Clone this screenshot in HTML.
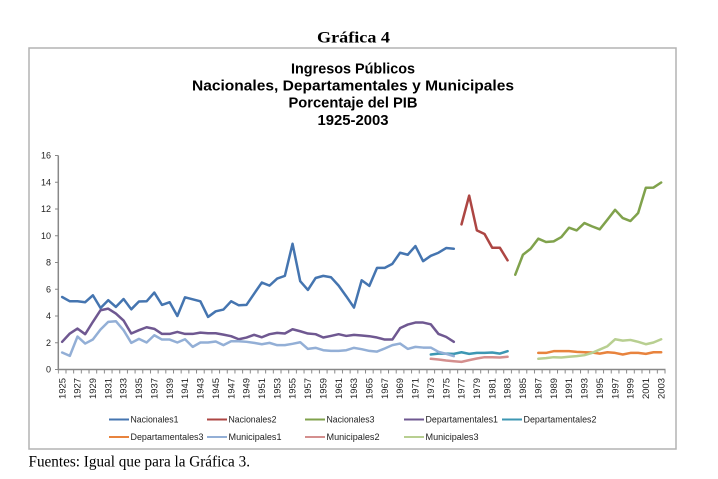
<!DOCTYPE html>
<html><head><meta charset="utf-8"><style>
html,body{margin:0;padding:0;background:#fff;}
svg{display:block;}
</style></head><body>
<svg width="718" height="479" viewBox="0 0 718 479" xmlns="http://www.w3.org/2000/svg">
<defs>
<pattern id="tk" x="57.8" y="369.5" width="7.68" height="4" patternUnits="userSpaceOnUse"><rect x="0" y="0" width="1" height="4" fill="#888"/></pattern>
</defs>
<rect width="718" height="479" fill="#fff"/>
<text x="353.5" y="42.7" font-family="Liberation Serif, serif" font-weight="bold" font-size="16" text-anchor="middle" textLength="73" lengthAdjust="spacingAndGlyphs" fill="#000">Gráfica 4</text>
<rect x="29" y="48" width="647" height="401" fill="#fff" stroke="#b3b3b3" stroke-width="1.5"/>
<g font-family="Liberation Sans, sans-serif" font-weight="bold" font-size="15" text-anchor="middle" fill="#000">
<text x="353" y="73.3" textLength="124" lengthAdjust="spacingAndGlyphs">Ingresos Públicos</text>
<text x="353" y="90.7" textLength="322" lengthAdjust="spacingAndGlyphs">Nacionales, Departamentales y Municipales</text>
<text x="353" y="107.7" textLength="129" lengthAdjust="spacingAndGlyphs">Porcentaje del PIB</text>
<text x="353" y="125" textLength="71" lengthAdjust="spacingAndGlyphs">1925-2003</text>
</g>
<!-- axes -->
<g stroke="#888" stroke-width="1.5" fill="none">
<line x1="58.3" y1="155.5" x2="58.3" y2="370"/>
<line x1="57.5" y1="369.5" x2="665.5" y2="369.5"/>
<path d="M55 369.5H58.3M55 342.75H58.3M55 316H58.3M55 289.25H58.3M55 262.5H58.3M55 235.75H58.3M55 209H58.3M55 182.25H58.3M55 155.5H58.3" stroke-width="1"/>
</g>
<rect x="57.8" y="369.5" width="608" height="4" fill="url(#tk)"/>
<g font-family="Liberation Sans, sans-serif" font-size="9" text-anchor="end" fill="#222">
<text x="51" y="372.5">0</text>
<text x="51" y="345.75">2</text>
<text x="51" y="319">4</text>
<text x="51" y="292.25">6</text>
<text x="51" y="265.5">8</text>
<text x="51" y="238.75">10</text>
<text x="51" y="212">12</text>
<text x="51" y="185.25">14</text>
<text x="51" y="158.5">16</text>
</g>
<g font-family="Liberation Sans, sans-serif" font-size="9" text-anchor="end" fill="#222">
<text transform="translate(65.3,378) rotate(-90)" textLength="21" lengthAdjust="spacingAndGlyphs">1925</text>
<text transform="translate(80.66,378) rotate(-90)" textLength="21" lengthAdjust="spacingAndGlyphs">1927</text>
<text transform="translate(96.02,378) rotate(-90)" textLength="21" lengthAdjust="spacingAndGlyphs">1929</text>
<text transform="translate(111.38,378) rotate(-90)" textLength="21" lengthAdjust="spacingAndGlyphs">1931</text>
<text transform="translate(126.74,378) rotate(-90)" textLength="21" lengthAdjust="spacingAndGlyphs">1933</text>
<text transform="translate(142.1,378) rotate(-90)" textLength="21" lengthAdjust="spacingAndGlyphs">1935</text>
<text transform="translate(157.46,378) rotate(-90)" textLength="21" lengthAdjust="spacingAndGlyphs">1937</text>
<text transform="translate(172.82,378) rotate(-90)" textLength="21" lengthAdjust="spacingAndGlyphs">1939</text>
<text transform="translate(188.18,378) rotate(-90)" textLength="21" lengthAdjust="spacingAndGlyphs">1941</text>
<text transform="translate(203.54,378) rotate(-90)" textLength="21" lengthAdjust="spacingAndGlyphs">1943</text>
<text transform="translate(218.9,378) rotate(-90)" textLength="21" lengthAdjust="spacingAndGlyphs">1945</text>
<text transform="translate(234.26,378) rotate(-90)" textLength="21" lengthAdjust="spacingAndGlyphs">1947</text>
<text transform="translate(249.62,378) rotate(-90)" textLength="21" lengthAdjust="spacingAndGlyphs">1949</text>
<text transform="translate(264.98,378) rotate(-90)" textLength="21" lengthAdjust="spacingAndGlyphs">1951</text>
<text transform="translate(280.34,378) rotate(-90)" textLength="21" lengthAdjust="spacingAndGlyphs">1953</text>
<text transform="translate(295.7,378) rotate(-90)" textLength="21" lengthAdjust="spacingAndGlyphs">1955</text>
<text transform="translate(311.06,378) rotate(-90)" textLength="21" lengthAdjust="spacingAndGlyphs">1957</text>
<text transform="translate(326.42,378) rotate(-90)" textLength="21" lengthAdjust="spacingAndGlyphs">1959</text>
<text transform="translate(341.78,378) rotate(-90)" textLength="21" lengthAdjust="spacingAndGlyphs">1961</text>
<text transform="translate(357.14,378) rotate(-90)" textLength="21" lengthAdjust="spacingAndGlyphs">1963</text>
<text transform="translate(372.5,378) rotate(-90)" textLength="21" lengthAdjust="spacingAndGlyphs">1965</text>
<text transform="translate(387.86,378) rotate(-90)" textLength="21" lengthAdjust="spacingAndGlyphs">1967</text>
<text transform="translate(403.22,378) rotate(-90)" textLength="21" lengthAdjust="spacingAndGlyphs">1969</text>
<text transform="translate(418.58,378) rotate(-90)" textLength="21" lengthAdjust="spacingAndGlyphs">1971</text>
<text transform="translate(433.94,378) rotate(-90)" textLength="21" lengthAdjust="spacingAndGlyphs">1973</text>
<text transform="translate(449.3,378) rotate(-90)" textLength="21" lengthAdjust="spacingAndGlyphs">1975</text>
<text transform="translate(464.66,378) rotate(-90)" textLength="21" lengthAdjust="spacingAndGlyphs">1977</text>
<text transform="translate(480.02,378) rotate(-90)" textLength="21" lengthAdjust="spacingAndGlyphs">1979</text>
<text transform="translate(495.38,378) rotate(-90)" textLength="21" lengthAdjust="spacingAndGlyphs">1981</text>
<text transform="translate(510.74,378) rotate(-90)" textLength="21" lengthAdjust="spacingAndGlyphs">1983</text>
<text transform="translate(526.1,378) rotate(-90)" textLength="21" lengthAdjust="spacingAndGlyphs">1985</text>
<text transform="translate(541.46,378) rotate(-90)" textLength="21" lengthAdjust="spacingAndGlyphs">1987</text>
<text transform="translate(556.82,378) rotate(-90)" textLength="21" lengthAdjust="spacingAndGlyphs">1989</text>
<text transform="translate(572.18,378) rotate(-90)" textLength="21" lengthAdjust="spacingAndGlyphs">1991</text>
<text transform="translate(587.54,378) rotate(-90)" textLength="21" lengthAdjust="spacingAndGlyphs">1993</text>
<text transform="translate(602.9,378) rotate(-90)" textLength="21" lengthAdjust="spacingAndGlyphs">1995</text>
<text transform="translate(618.26,378) rotate(-90)" textLength="21" lengthAdjust="spacingAndGlyphs">1997</text>
<text transform="translate(633.62,378) rotate(-90)" textLength="21" lengthAdjust="spacingAndGlyphs">1999</text>
<text transform="translate(648.98,378) rotate(-90)" textLength="21" lengthAdjust="spacingAndGlyphs">2001</text>
<text transform="translate(664.34,378) rotate(-90)" textLength="21" lengthAdjust="spacingAndGlyphs">2003</text>
</g>
<!-- series -->
<g transform="translate(62.14,369.5) scale(7.68,-13.375)" fill="none" stroke-width="2.5" stroke-linejoin="round" stroke-linecap="round">
<polyline vector-effect="non-scaling-stroke" stroke="#4575b0" points="0,5.42 1,5.1 2,5.1 3,5.03 4,5.55 5,4.6 6,5.18 7,4.68 8,5.27 9,4.5 10,5.08 11,5.1 12,5.75 13,4.83 14,5.03 15,4.0 16,5.4 17,5.25 18,5.1 19,3.93 20,4.35 21,4.48 22,5.1 23,4.8 24,4.83 25,5.67 26,6.5 27,6.27 28,6.8 29,7.0 30,9.4 31,6.6 32,5.95 33,6.84 34,7.0 35,6.9 36,6.27 37,5.47 38,4.63 39,6.67 40,6.25 41,7.6 42,7.6 43,7.9 44,8.73 45,8.58 46,9.23 47,8.1 48,8.5 49,8.73 50,9.08 51,9.03"/>
<polyline vector-effect="non-scaling-stroke" stroke="#ad4643" points="52,10.85 53,13.0 54,10.4 55,10.13 56,9.1 57,9.1 58,8.16"/>
<polyline vector-effect="non-scaling-stroke" stroke="#80a24c" points="59,7.09 60,8.58 61,9.03 62,9.78 63,9.53 64,9.58 65,9.9 66,10.6 67,10.4 68,10.95 69,10.7 70,10.48 71,11.2 72,11.94 73,11.32 74,11.1 75,11.7 76,13.59 77,13.6 78,13.98"/>
<polyline vector-effect="non-scaling-stroke" stroke="#6f5891" points="0,2.07 1,2.69 2,3.06 3,2.64 4,3.56 5,4.43 6,4.55 7,4.18 8,3.66 9,2.69 10,2.94 11,3.16 12,3.04 13,2.66 14,2.66 15,2.81 16,2.66 17,2.66 18,2.76 19,2.71 20,2.71 21,2.61 22,2.49 23,2.26 24,2.39 25,2.59 26,2.41 27,2.64 28,2.74 29,2.69 30,3.01 31,2.86 32,2.69 33,2.64 34,2.39 35,2.51 36,2.64 37,2.51 38,2.59 39,2.54 40,2.49 41,2.39 42,2.24 43,2.24 44,3.09 45,3.36 46,3.51 47,3.51 48,3.38 49,2.66 50,2.44 51,2.07"/>
<polyline vector-effect="non-scaling-stroke" stroke="#3d97b3" points="48,1.12 49,1.19 50,1.19 51,1.17 52,1.29 53,1.17 54,1.24 55,1.24 56,1.27 57,1.19 58,1.37"/>
<polyline vector-effect="non-scaling-stroke" stroke="#e8833d" points="62,1.24 63,1.24 64,1.37 65,1.37 66,1.37 67,1.32 68,1.29 69,1.27 70,1.19 71,1.29 72,1.24 73,1.12 74,1.24 75,1.24 76,1.17 77,1.29 78,1.29"/>
<polyline vector-effect="non-scaling-stroke" stroke="#93afd6" points="0,1.27 1,1.02 2,2.46 3,1.94 4,2.24 5,2.99 6,3.56 7,3.61 8,2.94 9,1.99 10,2.29 11,2.02 12,2.56 13,2.24 14,2.24 15,2.02 16,2.26 17,1.69 18,2.02 19,2.02 20,2.09 21,1.82 22,2.11 23,2.11 24,2.07 25,1.99 26,1.89 27,1.99 28,1.82 29,1.82 30,1.92 31,2.04 32,1.54 33,1.62 34,1.44 35,1.39 36,1.39 37,1.44 38,1.62 39,1.52 40,1.39 41,1.34 42,1.57 43,1.82 44,1.94 45,1.54 46,1.69 47,1.64 48,1.64 49,1.32 50,1.17 51,1.0"/>
<polyline vector-effect="non-scaling-stroke" stroke="#d48f8e" points="48,0.8 49,0.75 50,0.67 51,0.62 52,0.57 53,0.7 54,0.82 55,0.92 56,0.92 57,0.9 58,0.95"/>
<polyline vector-effect="non-scaling-stroke" stroke="#b8cf91" points="62,0.8 63,0.85 64,0.92 65,0.9 66,0.95 67,1.0 68,1.07 69,1.24 70,1.49 71,1.74 72,2.26 73,2.16 74,2.21 75,2.07 76,1.89 77,2.02 78,2.26"/>
</g>
<!-- legend -->
<g stroke-width="2" fill="none">
<line x1="109" y1="419.5" x2="129" y2="419.5" stroke="#4575b0"/>
<line x1="207" y1="419.5" x2="227" y2="419.5" stroke="#ad4643"/>
<line x1="305" y1="419.5" x2="325" y2="419.5" stroke="#80a24c"/>
<line x1="404" y1="419.5" x2="424" y2="419.5" stroke="#6f5891"/>
<line x1="502" y1="419.5" x2="522" y2="419.5" stroke="#3d97b3"/>
<line x1="109" y1="437" x2="129" y2="437" stroke="#e8833d"/>
<line x1="207" y1="437" x2="227" y2="437" stroke="#93afd6"/>
<line x1="305" y1="437" x2="325" y2="437" stroke="#d48f8e"/>
<line x1="404" y1="437" x2="424" y2="437" stroke="#b8cf91"/>
</g>
<g font-family="Liberation Sans, sans-serif" font-size="8.8" fill="#222">
<text x="130.5" y="422.6" textLength="48" lengthAdjust="spacingAndGlyphs">Nacionales1</text>
<text x="228.5" y="422.6" textLength="48" lengthAdjust="spacingAndGlyphs">Nacionales2</text>
<text x="326.5" y="422.6" textLength="48" lengthAdjust="spacingAndGlyphs">Nacionales3</text>
<text x="425.5" y="422.6" textLength="72.5" lengthAdjust="spacingAndGlyphs">Departamentales1</text>
<text x="523.5" y="422.6" textLength="73" lengthAdjust="spacingAndGlyphs">Departamentales2</text>
<text x="130.5" y="440.1" textLength="73" lengthAdjust="spacingAndGlyphs">Departamentales3</text>
<text x="228.5" y="440.1" textLength="53" lengthAdjust="spacingAndGlyphs">Municipales1</text>
<text x="326.5" y="440.1" textLength="53" lengthAdjust="spacingAndGlyphs">Municipales2</text>
<text x="425.5" y="440.1" textLength="53" lengthAdjust="spacingAndGlyphs">Municipales3</text>
</g>
<text x="28.5" y="466.5" font-family="Liberation Serif, serif" font-size="15.5" fill="#000" textLength="221.5" lengthAdjust="spacingAndGlyphs">Fuentes: Igual que para la Gráfica 3.</text>
</svg>
</body></html>
